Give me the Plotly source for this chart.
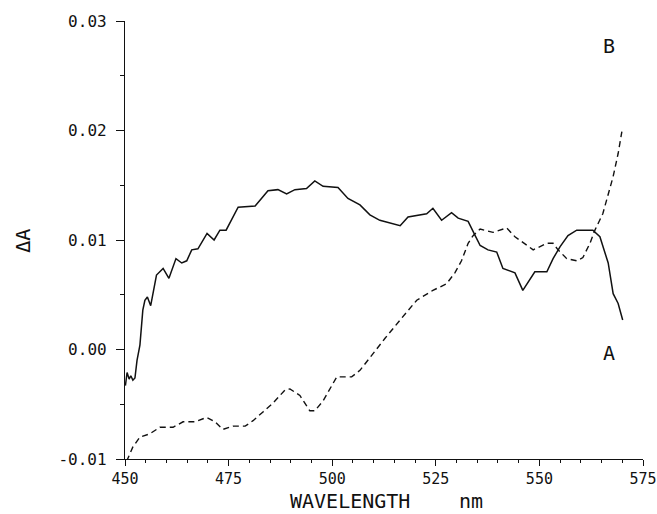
import plotly.graph_objects as go

# Difference spectrum A (solid)
wl_a = [450.1, 450.5, 451.0, 451.4, 451.9, 452.4, 452.9, 453.6, 454.3, 454.8,
        455.4, 456.2, 457.6, 459.2, 460.6, 462.3, 463.7, 464.9, 466.1, 467.6,
        469.8, 471.5, 472.9, 474.4, 477.3, 481.4, 484.5, 486.9, 489.0, 491.0,
        493.8, 495.8, 497.8, 501.4, 503.8, 506.7, 509.1, 511.5, 516.4, 518.3,
        522.8, 524.3, 526.4, 528.8, 530.4, 532.8, 534.5, 535.7, 537.6, 539.7,
        541.2, 544.1, 546.0, 548.9, 551.8, 553.3, 555.0, 556.9, 559.0, 562.9,
        564.6, 566.6, 567.8, 569.0, 570.1]
da_a = [-0.0033, -0.0021, -0.0027, -0.0024, -0.0028, -0.0026, -0.0010, 0.0004, 0.0036, 0.0045,
        0.0048, 0.0040, 0.0068, 0.0074, 0.0065, 0.0083, 0.0079, 0.0081, 0.0091, 0.0092,
        0.0106, 0.0100, 0.0109, 0.0109, 0.0130, 0.0131, 0.0145, 0.0146, 0.0142, 0.0146,
        0.0147, 0.0154, 0.0149, 0.0148, 0.0138, 0.0132, 0.0123, 0.0118, 0.0113, 0.0121,
        0.0124, 0.0129, 0.0118, 0.0125, 0.0120, 0.0117, 0.0104, 0.0095, 0.0091, 0.0089,
        0.0074, 0.0070, 0.0054, 0.0071, 0.0071, 0.0083, 0.0094, 0.0104, 0.0109, 0.0109,
        0.0103, 0.0079, 0.0051, 0.0042, 0.0027]

# Difference spectrum B (dashed)
wl_b = [450.4, 451.9, 453.6, 456.0, 458.4, 461.6, 464.0, 466.9, 469.7, 471.7,
        473.6, 476.1, 479.0, 480.9, 483.3, 485.7, 488.6, 489.8, 492.2, 494.6,
        495.8, 497.8, 501.1, 504.7, 506.7, 509.1, 512.7, 516.4, 520.4, 524.3,
        527.6, 529.6, 531.2, 532.8, 534.0, 535.7, 538.8, 542.1, 544.1, 548.5,
        551.8, 553.3, 554.5, 556.6, 559.0, 560.5, 562.2, 563.4, 565.3, 567.8,
        569.0, 569.9]
da_b = [-0.0102, -0.0089, -0.0080, -0.0077, -0.0071, -0.0071, -0.0066, -0.0066, -0.0062, -0.0066,
        -0.0073, -0.0070, -0.0070, -0.0065, -0.0057, -0.0049, -0.0037, -0.0036, -0.0042, -0.0056,
        -0.0056, -0.0047, -0.0025, -0.0025, -0.0019, -0.0007, 0.0010, 0.0027, 0.0045, 0.0054,
        0.0060, 0.0070, 0.0081, 0.0097, 0.0104, 0.0110, 0.0107, 0.0111, 0.0103, 0.0091,
        0.0097, 0.0097, 0.0091, 0.0083, 0.0081, 0.0084, 0.0097, 0.0109, 0.0124, 0.0158,
        0.0179, 0.0199]

x_ticks = [450, 475, 500, 525, 550, 575]
x_tick_labels = ["450", "475", "500", "525", "550", "575"]
y_ticks = [-0.01, 0.00, 0.01, 0.02, 0.03]
y_tick_labels = ["-0.01", "0.00", "0.01", "0.02", "0.03"]

FONT = "DejaVu Sans Mono"
INK = "#111111"

fig = go.Figure()
fig.add_trace(go.Scatter(x=wl_a, y=da_a, mode="lines",
                         line=dict(color=INK, width=1.5), showlegend=False))
fig.add_trace(go.Scatter(x=wl_b, y=da_b, mode="lines",
                         line=dict(color=INK, width=1.4, dash="6px,4px"), showlegend=False))

axis_common = dict(
    showline=True, linecolor=INK, linewidth=1.3,
    showgrid=False, zeroline=False, automargin=False,
    ticks="outside", tickcolor=INK, tickwidth=1.3,
)

fig.update_xaxes(
    range=[450, 575], tickvals=x_ticks, ticktext=x_tick_labels,
    ticklen=6, ticklabelstandoff=0,
    tickfont=dict(family=FONT, size=15, color=INK),
    minor=dict(dtick=5, ticks="outside", ticklen=3, tickcolor=INK, tickwidth=1.2),
    **axis_common,
)
fig.update_yaxes(
    range=[-0.01, 0.03], tickvals=y_ticks, ticktext=y_tick_labels,
    ticklen=8, ticklabelstandoff=6,
    tickfont=dict(family=FONT, size=16, color=INK),
    minor=dict(dtick=0.005, ticks="outside", ticklen=4, tickcolor=INK, tickwidth=1.2),
    **axis_common,
)

text_font = dict(family=FONT, size=20, color=INK)
fig.add_annotation(text="WAVELENGTH", xref="paper", yref="paper", x=0.434, y=-0.096,
                   showarrow=False, font=text_font, xanchor="center", yanchor="middle")
fig.add_annotation(text="nm", xref="paper", yref="paper", x=0.668, y=-0.096,
                   showarrow=False, font=text_font, xanchor="center", yanchor="middle")
fig.add_annotation(text="ΔA", xref="paper", yref="paper", x=-0.197, y=0.498,
                   showarrow=False, font=text_font, textangle=-90,
                   xanchor="center", yanchor="middle")
fig.add_annotation(text="B", xref="x", yref="y", x=566.8, y=0.0277,
                   showarrow=False, font=text_font, xanchor="center", yanchor="middle")
fig.add_annotation(text="A", xref="x", yref="y", x=566.8, y=-0.0003,
                   showarrow=False, font=text_font, xanchor="center", yanchor="middle")

fig.update_layout(
    width=657, height=514,
    margin=dict(l=125, r=14, t=21, b=55),
    paper_bgcolor="white", plot_bgcolor="white",
)

fig.write_html("out.html")
